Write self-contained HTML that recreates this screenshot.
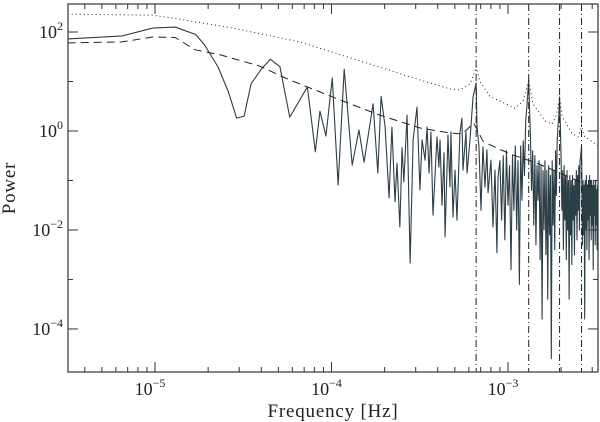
<!DOCTYPE html>
<html><head><meta charset="utf-8"><style>
html,body{margin:0;padding:0;background:#fff;}
svg{display:block;font-family:"Liberation Serif",serif;}
</style></head><body>
<svg id="chart" width="600" height="422" viewBox="0 0 600 422" xmlns="http://www.w3.org/2000/svg">
<rect width="600" height="422" fill="#fff"/>
<g id="marks"></g>
<g id="axes"></g>
<text x="333" y="417" font-size="19" text-anchor="middle" fill="#222" letter-spacing="0.8">Frequency [Hz]</text>
<text transform="translate(15,188) rotate(-90)" font-size="19" text-anchor="middle" fill="#222" letter-spacing="0.8">Power</text>
</svg>
<script>
// frequencies in µHz, power as log10 exponent
const specFreq = [3.2,6.5,9.7,13,17,19,22.7,26,29,32,35,40,45,51,58,73,81,86,93,101,109,118,131,143,153,172,183,191,201,212,220,229,235,244,251,257,268,279,290,305,317,326,339,348,357,366,376,396,406,412,423,434,440,457,469,475,488,501,514,534,548,556,578,586,609,634,660,667,685,703,721,741,760,771,801,822,844,866,878,
900,920,940,960,980,1000,1020,1040,1060,1080,1100,1120,1140,1160,1180,1200,1220,1240,1260,1280,1310,1320,1340,1360,1380,1400,1420,1440,1460,1480,1500,1520,1540,1560,1580,1600,1620,1640,1660,1680,1700,1720,1740,1760,1780,1800,1820,1840,1860,1880,1900,1920,1940,1960,1980,2000,2020,2040,2060,2080,2100,2120,2140,2160,2180,2200,2220,2240,2260,2280,2300,2320,2340,2360,2380,2400,2420,2440,2460,2480,2500,2520,2540,2560,2580,2610,2620,2640,2660,2680,2700,2720,2740,2760,2780,2800,2820,2840,2860,2880,2900,2920,2940,2960,2980,3000,3020,3040,3060,3080,3100,3120,3140,3160,3180,3200,3220,3240];
const specPow = [1.86,1.92,2.08,2.1,1.95,1.75,1.3,0.8,0.26,0.3,0.95,1.25,1.45,1.3,0.28,0.89,-0.42,0.4,-0.1,1.07,-1.09,1.25,-0.69,0.02,-0.63,0.55,-0.85,0.7,0.1,-1.35,0.08,-1.43,-0.65,-1.94,-0.34,-1.03,0.32,-2.67,-0.18,0.48,-1.19,-0.18,-0.59,0.08,-0.85,-0.02,-1.7,-0.12,-0.73,-0.18,-1.5,-0.44,-2.14,-0.08,-1.13,-0.02,-1.74,-0.79,-1.8,-0.04,0.26,-0.79,-0.02,-0.85,-0.18,0.69,0.97,0.1,-0.32,-1.6,-0.32,-1.13,-0.38,-1.25,-0.59,-1.94,-0.79,-2.46,-0.93,
-0.6,-1.8,-0.5,-2.2,-0.4,-1.5,-0.7,-2.8,-0.5,-1.6,-0.3,-2.0,-0.6,-3.1,-0.3,-1.4,-0.2,-0.9,0.2,0.5,1.03,0.6,-0.1,-1.2,-0.4,-1.9,-0.5,-2.3,-0.7,-1.4,-0.6,-2.6,-0.7,-3.8,-0.8,-2.0,-0.6,-2.5,-0.8,-3.4,-0.7,-2.1,-0.9,-4.6,-0.6,-1.9,-0.8,-2.4,-0.4,-1.3,-0.2,0.1,0.3,0.69,0.1,-0.6,-1.6,-0.8,-2.4,-0.7,-1.8,-0.9,-2.6,-0.8,-2.0,-1.0,-3.4,-0.9,-2.1,-1.0,-2.7,-0.9,-1.8,-1.1,-2.5,-1.0,-1.7,-0.8,-2.2,-0.9,-1.6,-0.7,-2.0,-0.6,-0.5,-0.32,-0.8,-2.3,-1.0,-2.1,-1.1,-3.8,-1.0,-2.0,-0.9,-2.4,-1.1,-1.8,-1.0,-2.6,-0.9,-1.7,-1.0,-2.2,-1.0,-1.9,-1.1,-2.8,-1.0,-1.7,-1.1,-2.3,-1.0,-1.9,-1.2,-2.4,-1.1,-1.8];
const modelFreq = [3.2,6.5,9.7,13,16.9,23.4,39.3,58,86,111,188,318,469,550,640,720,790,1054,1460,1970,2800,3190];
const modelPow = [1.78,1.80,1.90,1.89,1.64,1.54,1.31,1.03,0.79,0.63,0.32,0.06,-0.04,-0.06,0.16,-0.2,-0.28,-0.48,-0.65,-0.85,-1.09,-1.19];
const limFreq = [3.2,9.7,12.6,27.6,66,188,318,469,534,609,634,660,694,790,1096,1216,1310,1386,1622,1775,1870,1960,2023,2305,2493,2610,2697,3236];
const limPow = [2.36,2.34,2.28,2.08,1.80,1.29,1.03,0.85,0.83,0.95,1.1,1.30,1.0,0.7,0.46,0.6,1.0,0.55,0.2,0.14,0.3,0.67,0.3,-0.05,-0.12,0.12,-0.1,-0.30];
const harmonicFreq = [660,1310,1960,2610];
const xTickExp = [-5,-4,-3];
const yTickExp = [2,0,-2,-4];

const L=68,R=598,T=4,B=372;
const xMinLog=-5.493, xMaxLog=-2.49, yMinLog=-4.87, yMaxLog=2.566;
function xs(fMicro){return L+(Math.log10(fMicro*1e-6)-xMinLog)/(xMaxLog-xMinLog)*(R-L);}
function ysLog(e){return B-(e-yMinLog)/(yMaxLog-yMinLog)*(B-T);}
const NS="http://www.w3.org/2000/svg";
const marks=document.getElementById('marks'), axes=document.getElementById('axes');
function mk(tag,attrs,parent){const e=document.createElementNS(NS,tag);for(const k in attrs)e.setAttribute(k,attrs[k]);parent.appendChild(e);return e;}
function pathFrom(fr,pw){return fr.map((f,i)=>(i?'L':'M')+xs(f).toFixed(2)+' '+ysLog(pw[i]).toFixed(2)).join(' ');}

const clip=mk('clipPath',{id:'pc'},marks);mk('rect',{x:L,y:T,width:R-L,height:B-T},clip);
const g=mk('g',{'clip-path':'url(#pc)'},marks);

const sp=mk('path',{d:pathFrom(specFreq,specPow),fill:'none',stroke:'#2c3e46','stroke-width':1.1,'stroke-linejoin':'round'},g);


const md=mk('path',{d:pathFrom(modelFreq,modelPow),fill:'none',stroke:'#222','stroke-width':1,'stroke-dasharray':'8 5'},g);


const lm=mk('path',{d:pathFrom(limFreq,limPow),fill:'none',stroke:'#222','stroke-width':1,'stroke-dasharray':'1 3'},g);


harmonicFreq.forEach(f=>{
  const x=xs(f);
  const v=mk('line',{x1:x,x2:x,y1:T,y2:B,stroke:'#222','stroke-width':1,'stroke-dasharray':'7 3 1 3'},g);
  
  
});

const fr=mk('rect',{x:L,y:T,width:R-L,height:B-T,fill:'none',stroke:'#333','stroke-width':1.2},axes);


for(let d=-6;d<=-3;d++){for(let m=1;m<=9;m++){
  const f=m*Math.pow(10,d)*1e6; const x=xs(f); if(x<L||x>R)continue;
  const len=m===1?10:5;
  mk('line',{x1:x,x2:x,y1:B,y2:B-len,stroke:'#333','stroke-width':1},axes);
  mk('line',{x1:x,x2:x,y1:T,y2:T+len,stroke:'#333','stroke-width':1},axes);
}}
xTickExp.forEach(e=>{
  const x=xs(Math.pow(10,e)*1e6);
  const t=mk('text',{x:x-5,y:395,'font-size':18,'text-anchor':'middle',fill:'#222'},axes);
  t.textContent='10';
  const s=mk('tspan',{dy:-8,'font-size':12},t);s.textContent='\u2212'+Math.abs(e);
  
  
});
for(let e=-4;e<=2;e++){
  const y=ysLog(e); const len=(e%2===0)?10:5;
  mk('line',{x1:L,x2:L+len,y1:y,y2:y,stroke:'#333','stroke-width':1},axes);
  mk('line',{x1:R,x2:R-len,y1:y,y2:y,stroke:'#333','stroke-width':1},axes);
}
yTickExp.forEach(e=>{
  const y=ysLog(e);
  const t=mk('text',{x:63,y:y+6,'font-size':18,'text-anchor':'end',fill:'#222'},axes);
  t.textContent='10';
  const s=mk('tspan',{dy:-8,'font-size':12},t);s.textContent=(e<0?'\u2212':'')+Math.abs(e);
  
  
});
</script>
</body></html>
